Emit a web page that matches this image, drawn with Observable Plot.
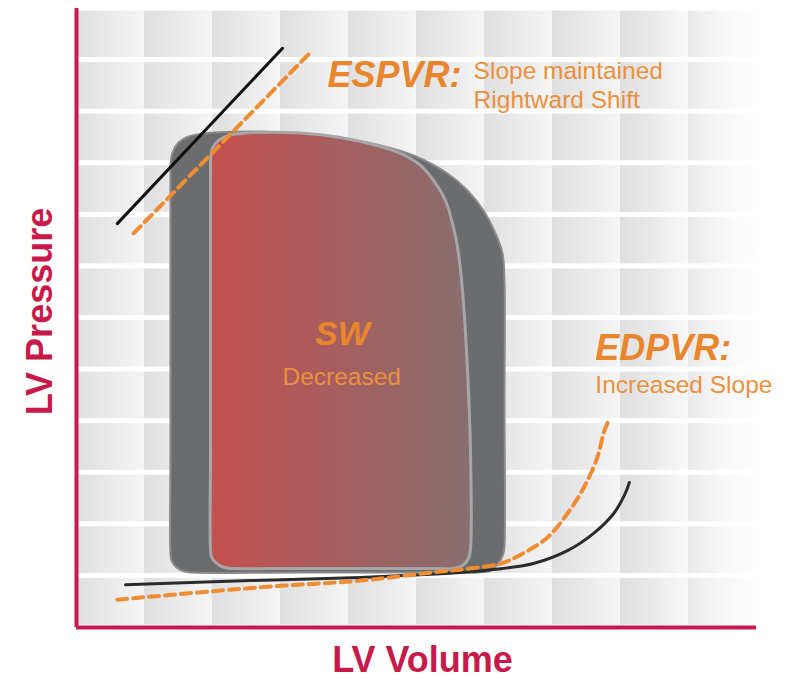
<!DOCTYPE html>
<html>
<head>
<meta charset="utf-8">
<script src="https://cdn.jsdelivr.net/npm/d3@7"></script>
<script src="https://cdn.jsdelivr.net/npm/@observablehq/plot@0.6"></script>
<style>
  html, body { margin: 0; padding: 0; background: #ffffff; }
  #chart { width: 798px; height: 680px; }
</style>
</head>
<body>
<div id="chart"></div>
<script>
// ---------- data (volume units on x, pressure units on y) ----------
const gridCols = [0, 1, 2, 3, 4, 5, 6, 7, 8, 9];
const gridRows = [0, 1, 2, 3, 4, 5, 6, 7, 8, 9, 10, 11];

// baseline (larger) pressure-volume loop
const baseLoopV = [1.382, 1.382, 1.382, 1.382, 1.382, 1.412, 1.500, 1.647, 1.853, 2.044, 2.706, 3.735, 4.471, 4.956, 5.456, 5.750, 5.985, 6.162, 6.265, 6.294, 6.294, 6.294, 6.279, 6.206, 6.088, 5.912, 5.721, 3.294, 1.706, 1.588, 1.471, 1.397];
const baseLoopP = [1.435, 3.432, 6.340, 8.763, 8.957, 9.209, 9.403, 9.519, 9.577, 9.597, 9.616, 9.519, 9.345, 9.151, 8.802, 8.472, 8.085, 7.639, 7.251, 6.727, 4.401, 1.590, 1.435, 1.241, 1.105, 1.066, 1.066, 1.066, 1.066, 1.086, 1.163, 1.299];

// new loop (stroke work decreased)
const newLoopV = [1.971, 1.971, 1.971, 1.971, 1.971, 2.000, 2.088, 2.235, 2.441, 2.632, 3.294, 3.882, 4.471, 4.765, 5.059, 5.250, 5.426, 5.544, 5.618, 5.676, 5.735, 5.794, 5.794, 5.765, 5.676, 5.529, 5.353, 3.294, 2.338, 2.176, 2.044, 1.985];
const newLoopP = [1.493, 3.432, 6.340, 8.860, 9.054, 9.287, 9.442, 9.539, 9.577, 9.597, 9.587, 9.500, 9.325, 9.190, 8.957, 8.666, 8.278, 7.755, 7.251, 6.534, 5.370, 3.432, 1.532, 1.338, 1.202, 1.144, 1.144, 1.144, 1.144, 1.163, 1.260, 1.377];

// ESPVR lines
const espvrBaseV = [0.60, 3.03];
const espvrBaseP = [7.83, 11.23];
const espvrNewV = [0.84, 3.47];
const espvrNewP = [7.64, 11.19];

// EDPVR curves
const edpvrBaseV = [0.72, 2.56, 4.18, 5.21, 5.69, 6.24, 6.72, 7.22, 7.60, 7.90, 8.07, 8.13];
const edpvrBaseP = [0.83, 0.91, 0.97, 1.03, 1.07, 1.14, 1.24, 1.49, 1.82, 2.21, 2.60, 2.81];
const edpvrNewV = [0.60, 2.71, 4.18, 5.25, 5.75, 6.24, 6.57, 6.93, 7.22, 7.46, 7.66, 7.75, 7.81];
const edpvrNewP = [0.54, 0.78, 0.91, 1.07, 1.14, 1.24, 1.44, 1.75, 2.21, 2.71, 3.30, 3.76, 3.97];

// annotations
const headTexts = ["ESPVR:", "EDPVR:"];
const headV = [3.69, 7.63];
const headP = [10.47, 5.18];
const swText = ["SW"];
const swV = [3.91];
const swP = [5.47];
const subTexts = ["Slope maintained", "Rightward Shift", "Increased Slope"];
const subV = [5.84, 5.84, 7.63];
const subP = [10.64, 10.08, 4.54];
const swSubText = ["Decreased"];
const swSubV = [3.90];
const swSubP = [4.71];

const xLabel = "LV Volume";
const yLabel = "LV Pressure";

// ---------- build ----------
const pts = (vs, ps) => vs.map((v, i) => ({v, p: ps[i]}));
const labels = (ts, vs, ps) => ts.map((t, i) => ({t, v: vs[i], p: ps[i]}));
const tiles = d3.cross(gridCols, gridRows).map(([c, r]) => ({c, r}));

const crimson = "#c8194b";
const orangeBold = "#e9862d";
const orangeText = "#ea9140";
const orangeDash = "#f08d33";
const font = "'Liberation Sans', Arial, Helvetica, sans-serif";

const chart = Plot.plot({
  width: 798,
  height: 680,
  marginLeft: 76,
  marginRight: 42,
  marginTop: 8,
  marginBottom: 53,
  x: {domain: [0, 10], axis: null},
  y: {domain: [0, 12], axis: null},
  style: {background: "#ffffff", fontFamily: font, overflow: "visible"},
  marks: [
    Plot.rect(tiles, {
      x1: d => d.c, x2: d => d.c + 1, y1: d => d.r, y2: d => d.r + 1,
      insetTop: 2.5, insetBottom: 2.5, fill: "url(#tileGrad)"
    }),
    Plot.rect([0], {x1: 8.5, x2: 10, y1: 0, y2: 12, fill: "url(#fadeGrad)"}),
    Plot.line(pts(baseLoopV, baseLoopP), {
      x: "v", y: "p", curve: "catmull-rom-closed",
      fill: "#6b6c6e", stroke: "#8a8b8d", strokeWidth: 2
    }),
    Plot.line(pts(newLoopV, newLoopP), {
      x: "v", y: "p", curve: "catmull-rom-closed",
      fill: "url(#redGrad)", stroke: "#a6a6a8", strokeWidth: 3
    }),
    Plot.line(pts(espvrBaseV, espvrBaseP), {x: "v", y: "p", stroke: "#111111", strokeWidth: 3}),
    Plot.line(pts(espvrNewV, espvrNewP), {x: "v", y: "p", stroke: orangeDash, strokeWidth: 4, strokeDasharray: "10,6"}),
    Plot.line(pts(edpvrBaseV, edpvrBaseP), {x: "v", y: "p", curve: "catmull-rom", stroke: "#2b2b2b", strokeWidth: 3}),
    Plot.line(pts(edpvrNewV, edpvrNewP), {x: "v", y: "p", curve: "catmull-rom", stroke: orangeDash, strokeWidth: 4, strokeDasharray: "10,6"}),
    Plot.text(labels(headTexts, headV, headP), {
      x: "v", y: "p", text: "t", textAnchor: "start", lineAnchor: "bottom",
      fontSize: 36, fontWeight: "bold", fontStyle: "italic", fill: orangeBold
    }),
    Plot.text(labels(swText, swV, swP), {
      x: "v", y: "p", text: "t", textAnchor: "middle", lineAnchor: "bottom",
      fontSize: 34, fontWeight: "bold", fontStyle: "italic", fill: orangeBold
    }),
    Plot.text(labels(subTexts, subV, subP), {
      x: "v", y: "p", text: "t", textAnchor: "start", lineAnchor: "bottom",
      fontSize: 24.5, fill: orangeText
    }),
    Plot.text(labels(swSubText, swSubV, swSubP), {
      x: "v", y: "p", text: "t", textAnchor: "middle", lineAnchor: "bottom",
      fontSize: 24.5, fill: orangeText
    }),
    Plot.ruleX([0], {stroke: crimson, strokeWidth: 4}),
    Plot.ruleY([0], {stroke: crimson, strokeWidth: 4}),
    Plot.text([yLabel], {
      frameAnchor: "left", dx: -36, dy: -6.5, rotate: -90, text: d => d,
      textAnchor: "middle", lineAnchor: "middle",
      fontSize: 36, fontWeight: "bold", fill: crimson
    }),
    Plot.text([xLabel], {
      frameAnchor: "bottom", dx: 6, dy: 44, text: d => d,
      textAnchor: "middle", lineAnchor: "bottom",
      fontSize: 36, fontWeight: "bold", fill: crimson
    })
  ]
});

// gradient definitions used by the marks above
const defs = d3.select(chart).insert("defs", ":first-child");
const tg = defs.append("linearGradient").attr("id", "tileGrad").attr("x1", 0).attr("x2", 1).attr("y1", 0).attr("y2", 0);
tg.append("stop").attr("offset", "0%").attr("stop-color", "#dfdfdf");
tg.append("stop").attr("offset", "100%").attr("stop-color", "#f5f5f5");
const fg = defs.append("linearGradient").attr("id", "fadeGrad").attr("x1", 0).attr("x2", 1).attr("y1", 0).attr("y2", 0);
fg.append("stop").attr("offset", "0%").attr("stop-color", "#ffffff").attr("stop-opacity", 0);
fg.append("stop").attr("offset", "100%").attr("stop-color", "#ffffff").attr("stop-opacity", 0.9);
const rg = defs.append("linearGradient").attr("id", "redGrad").attr("x1", 0).attr("x2", 1).attr("y1", 0).attr("y2", 0);
rg.append("stop").attr("offset", "0%").attr("stop-color", "#c44f4f");
rg.append("stop").attr("offset", "100%").attr("stop-color", "#876e6f");

document.getElementById("chart").appendChild(chart);
</script>
</body>
</html>
